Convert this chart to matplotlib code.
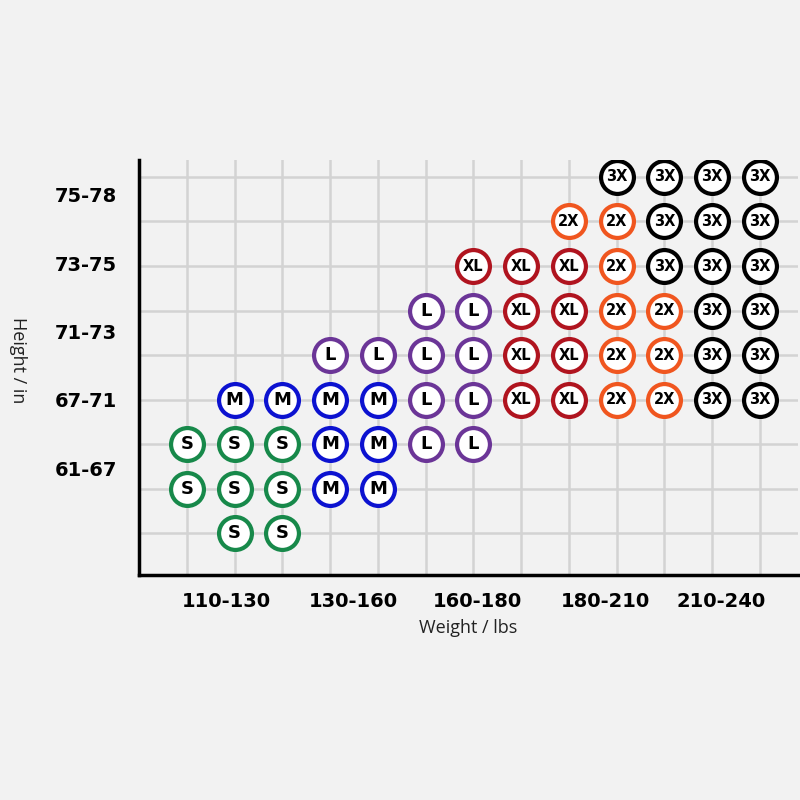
import matplotlib.pyplot as plt
import numpy as np

# 尺码表：每行从下到上，每列从左到右，'.' 表示空
size_rows = [
    ". S S . . . . . . . . . .",
    "S S S M M . . . . . . . .",
    "S S S M M L L . . . . . .",
    ". M M M M L L XL XL 2X 2X 3X 3X",
    ". . . L L L L XL XL 2X 2X 3X 3X",
    ". . . . . L L XL XL 2X 2X 3X 3X",
    ". . . . . . XL XL XL 2X 3X 3X 3X",
    ". . . . . . . . 2X 2X 3X 3X 3X",
    ". . . . . . . . . 3X 3X 3X 3X",
]
size_colors = {
    'S': '#17894a',
    'M': '#0c12d0',
    'L': '#6b3597',
    'XL': '#b0141f',
    '2X': '#f0561f',
    '3X': '#000000',
}
weight_labels = ['110-130', '130-160', '160-180', '180-210', '210-240']
weight_pos = [0.82, 3.48, 6.09, 8.77, 11.2]
height_labels = ['61-67', '67-71', '71-73', '73-75', '75-78']
height_pos = np.linspace(1.46, 7.6, 5)

bg = '#f2f2f2'
fig = plt.figure(figsize=(8, 8), dpi=100, facecolor=bg)
ax = fig.add_axes([0.174, 0.281, 0.8235, 0.519])
ax.set_facecolor(bg)

n_cols = len(size_rows[0].split())
n_rows = len(size_rows)

for r, row in enumerate(size_rows):
    for c, s in enumerate(row.split()):
        if s == '.':
            continue
        ax.scatter(c, r, s=560, facecolor='white', edgecolor=size_colors[s],
                   linewidth=3.0, zorder=3)
        ax.text(c, r, s, ha='center', va='center', fontsize=13 if len(s) == 1 else 10.5,
                fontweight='heavy', family='DejaVu Sans', color='black', zorder=4)

ax.set_xlim(-1.0, 12.8)
ax.set_ylim(-0.94, 8.38)

# 网格线
ax.set_xticks(np.arange(n_cols), minor=True)
ax.set_yticks(np.arange(n_rows), minor=True)
ax.grid(which='minor', color='#d3d3d3', linewidth=1.8, zorder=0)
ax.tick_params(which='both', length=0)

ax.set_xticks(weight_pos)
ax.set_xticklabels(weight_labels, fontsize=14, fontweight='heavy', family='DejaVu Sans')
ax.set_yticks(height_pos)
ax.set_yticklabels(height_labels, fontsize=14, fontweight='heavy', family='DejaVu Sans')
ax.tick_params(axis='x', pad=12)
ax.tick_params(axis='y', pad=16)

for side in ['top', 'right']:
    ax.spines[side].set_visible(False)
ax.spines['left'].set_linewidth(2.5)
ax.spines['bottom'].set_linewidth(2.5)

ax.set_xlabel('Weight / lbs', fontsize=13, family='Open Sans', color='#222222', labelpad=6)
fig.text(0.022, 0.55, 'Height / in', rotation=270, fontsize=13, family='Open Sans',
         color='#222222', ha='center', va='center')

plt.savefig('out.png', dpi=100, facecolor=bg)
